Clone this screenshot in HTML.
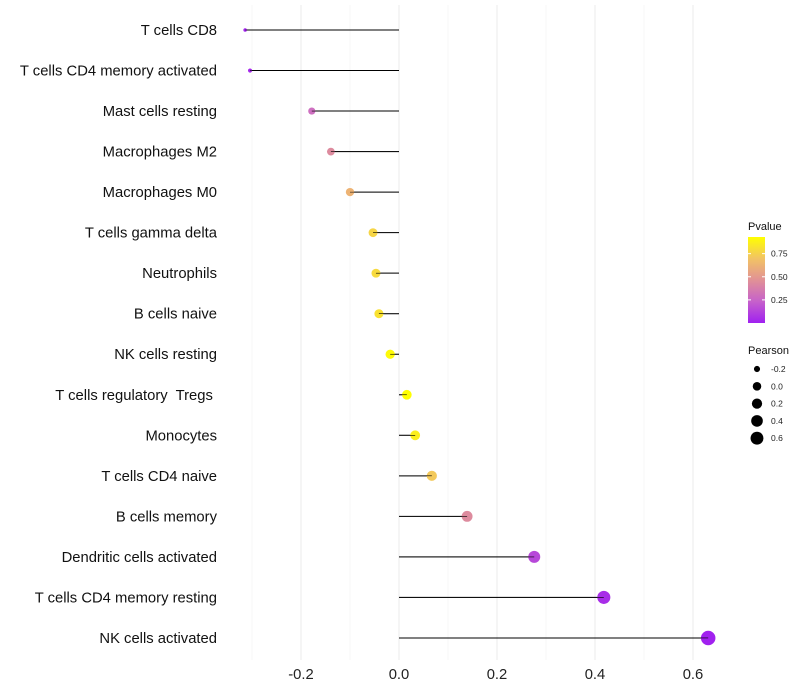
<!DOCTYPE html>
<html><head><meta charset="utf-8"><style>
body{margin:0;background:#fff;font-family:"Liberation Sans",sans-serif;}
svg{display:block}
text{white-space:pre}
</style></head><body>
<svg id="c" width="800" height="700"></svg>
<script>
const categories=["T cells CD8","T cells CD4 memory activated","Mast cells resting","Macrophages M2","Macrophages M0","T cells gamma delta","Neutrophils","B cells naive","NK cells resting","T cells regulatory  Tregs ","Monocytes","T cells CD4 naive","B cells memory","Dendritic cells activated","T cells CD4 memory resting","NK cells activated"];
const pearson=[-0.314,-0.304,-0.178,-0.139,-0.1,-0.053,-0.047,-0.041,-0.018,0.016,0.033,0.067,0.139,0.276,0.418,0.631];
const pvalues=[0.01,0.03,0.3,0.45,0.65,0.8,0.82,0.85,0.95,0.97,0.9,0.75,0.45,0.15,0.05,0.005];
const xTicks=[-0.2,0,0.2,0.4,0.6];
const xMinor=[-0.3,-0.1,0.1,0.3,0.5];
const pTicks=[0.25,0.5,0.75];
const sizeTicks=[-0.2,0,0.2,0.4,0.6];

const NS="http://www.w3.org/2000/svg";
const svg=document.getElementById('c');
function mk(t,a,p){const e=document.createElementNS(NS,t);for(const k in a)e.setAttribute(k,a[k]);(p||svg).appendChild(e);return e;}
const x=v=>399+v*490;
const y=i=>30+i*40.53;
const rad=v=>1.3+6.1*Math.sqrt(Math.max(0,v+0.32));
function lerp(a,b,t){return a.map((c,i)=>Math.round(c+(b[i]-c)*t));}
function col(p){const stops=[[0,[160,32,240]],[0.3,[205,110,195]],[0.5,[225,145,150]],[0.75,[242,195,100]],[1,[255,255,0]]];
 const t=Math.max(0,Math.min(1,p/0.97));
 let s=0;while(s<stops.length-2&&t>stops[s+1][0])s++;
 const a=stops[s],b=stops[s+1];
 const c=lerp(a[1],b[1],(t-a[0])/(b[0]-a[0]));return `rgb(${c[0]},${c[1]},${c[2]})`;}

xMinor.forEach(v=>{const l=mk('line',{x1:x(v),x2:x(v),y1:5,y2:660,stroke:'#f2f2f2','stroke-width':0.6});});
xTicks.forEach(v=>{const l=mk('line',{x1:x(v),x2:x(v),y1:5,y2:660,stroke:'#ebebeb','stroke-width':1});
 const t=mk('text',{x:x(v),y:679,'text-anchor':'middle','font-size':14.8,fill:'#222'});t.textContent=(v===0?'0.0':v.toFixed(1));});

categories.forEach((c,i)=>{
 const t=mk('text',{x:217,y:y(i)+5,'text-anchor':'end','font-size':14.8,fill:'#111'});t.textContent=c;
 
 const l=mk('line',{x1:x(0),x2:x(pearson[i]),y1:y(i),y2:y(i),stroke:'#000','stroke-width':1});
 
 const d=mk('circle',{cx:x(pearson[i]),cy:y(i),r:rad(pearson[i]),fill:col(pvalues[i])});
 
 const l2=mk('line',{x1:x(0),x2:x(pearson[i]),y1:y(i),y2:y(i),stroke:'#000','stroke-width':0.6});
 
});

// color legend
const lt=mk('text',{x:748,y:230,'font-size':11,fill:'#111'});lt.textContent='Pvalue';
const defs=mk('defs',{});const g=mk('linearGradient',{id:'pg',x1:0,y1:1,x2:0,y2:0},defs);
[0,0.25,0.5,0.75,1].forEach(o=>mk('stop',{offset:o,'stop-color':col(o*0.97)},g));
const bar=mk('rect',{x:748,y:237,width:17,height:86,fill:'url(#pg)'});
const py=p=>323-p/0.93*86;
pTicks.forEach(p=>{mk('line',{x1:748,x2:751,y1:py(p),y2:py(p),stroke:'#fff'});mk('line',{x1:762,x2:765,y1:py(p),y2:py(p),stroke:'#fff'});
 const t=mk('text',{x:771,y:py(p)+3,'font-size':8.5,fill:'#222'});t.textContent=p.toFixed(2);});
// size legend
const st=mk('text',{x:748,y:354,'font-size':11,fill:'#111'});st.textContent='Pearson';
sizeTicks.forEach((v,i)=>{const cy=369+i*17.3;
 const c=mk('circle',{cx:757,cy:cy,r:rad(v)*0.9,fill:'#000'});
 const t=mk('text',{x:771,y:cy+3,'font-size':8.5,fill:'#222'});t.textContent=(v===0?'0.0':v.toFixed(1));});
</script>
</body></html>
